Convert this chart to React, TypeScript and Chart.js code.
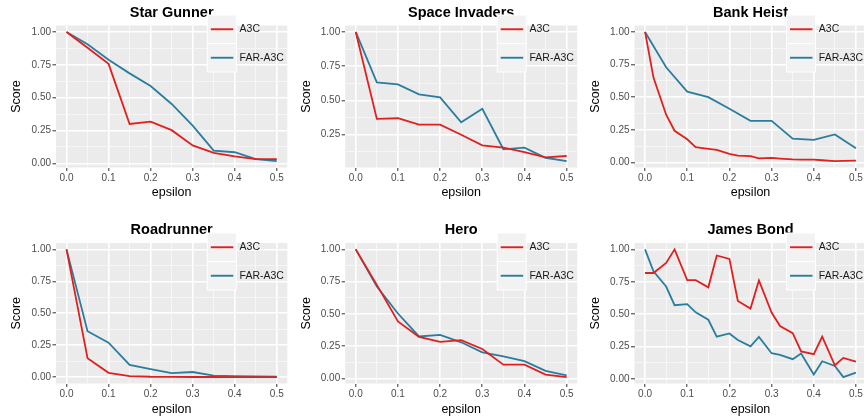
import React, { useEffect, useRef } from 'react';
import { Chart, registerables } from 'chart.js';

Chart.register(...registerables);

// ---------- data ----------
const EPS = [0, 0.05, 0.1, 0.15, 0.2, 0.25, 0.3, 0.35, 0.4, 0.45, 0.5];
const EPS_FINE = [0, 0.02, 0.05, 0.07, 0.1, 0.12, 0.15, 0.17, 0.2, 0.22, 0.25, 0.27, 0.3, 0.32, 0.35, 0.37, 0.4, 0.42, 0.45, 0.47, 0.5];

const GAME_TITLES = ['Star Gunner', 'Space Invaders', 'Bank Heist', 'Roadrunner', 'Hero', 'James Bond'];
const SERIES_NAMES = ['A3C', 'FAR-A3C'];
const X_TICK_LABELS = ['0.0', '0.1', '0.2', '0.3', '0.4', '0.5'];
const Y_TICK_LABELS = ['0.00', '0.25', '0.50', '0.75', '1.00'];
const X_TITLE = 'epsilon';
const Y_TITLE = 'Score';

const starGunnerA3C = [1.0, 0.88, 0.757, 0.3, 0.318, 0.253, 0.137, 0.08, 0.054, 0.033, 0.033];
const starGunnerFAR = [1.0, 0.907, 0.788, 0.685, 0.589, 0.452, 0.287, 0.098, 0.085, 0.033, 0.018];

const spaceInvadersA3C = [1.0, 0.364, 0.369, 0.322, 0.322, 0.248, 0.171, 0.154, 0.122, 0.083, 0.093];
const spaceInvadersFAR = [1.0, 0.631, 0.616, 0.544, 0.522, 0.339, 0.438, 0.142, 0.154, 0.08, 0.056];

const bankHeistA3C = [1.0, 0.65, 0.365, 0.242, 0.177, 0.117, 0.104, 0.096, 0.065, 0.052, 0.047, 0.031, 0.034, 0.029, 0.023, 0.021, 0.021, 0.016, 0.01, 0.011, 0.013];
const bankHeistFAR = [1.0, 0.729, 0.542, 0.5, 0.411, 0.318, 0.318, 0.182, 0.172, 0.214, 0.109];

const roadrunnerA3C = [1.0, 0.148, 0.034, 0.008, 0.003, 0.002, 0.001, 0.001, 0.0, 0.0, 0.0];
const roadrunnerFAR = [1.0, 0.359, 0.269, 0.095, 0.063, 0.032, 0.04, 0.011, 0.008, 0.005, 0.003];

const heroA3C = [1.0, 0.725, 0.442, 0.322, 0.283, 0.296, 0.228, 0.107, 0.107, 0.029, 0.01];
const heroFAR = [1.0, 0.712, 0.503, 0.325, 0.338, 0.28, 0.202, 0.17, 0.134, 0.058, 0.024];

const jamesBondA3C = [0.818, 0.818, 0.896, 1.0, 0.763, 0.763, 0.708, 0.953, 0.927, 0.602, 0.544, 0.76, 0.513, 0.409, 0.354, 0.214, 0.193, 0.328, 0.107, 0.164, 0.135];
const jamesBondFAR = [1.0, 0.831, 0.714, 0.57, 0.578, 0.515, 0.458, 0.328, 0.352, 0.302, 0.253, 0.326, 0.2, 0.188, 0.154, 0.198, 0.036, 0.138, 0.102, 0.016, 0.05];

const PANEL_SERIES = [
  { xa: EPS, a: starGunnerA3C, xf: EPS, f: starGunnerFAR },
  { xa: EPS, a: spaceInvadersA3C, xf: EPS, f: spaceInvadersFAR },
  { xa: EPS_FINE, a: bankHeistA3C, xf: EPS, f: bankHeistFAR },
  { xa: EPS, a: roadrunnerA3C, xf: EPS, f: roadrunnerFAR },
  { xa: EPS, a: heroA3C, xf: EPS, f: heroFAR },
  { xa: EPS_FINE, a: jamesBondA3C, xf: EPS_FINE, f: jamesBondFAR },
];

// ---------- style / layout ----------
const RED = '#E0201E';
const BLUE = '#2A7D9E';
const PANEL_BG = '#EBEBEB';
const FONT = '"Liberation Sans", Arial, Helvetica, sans-serif';

const COLS = [
  { left: 0, areaLeft: 56, areaRight: 287.3 },
  { left: 289, areaLeft: 56.2, areaRight: 288.2 },
  { left: 578, areaLeft: 56.5, areaRight: 288.5 },
];
const ROWS = [
  { top: 0, height: 210, areaTop: 25.5, areaBottom: 167.5, titleY: 12.5, xTitleY: 192.5, legendTop: 15 },
  { top: 210, height: 209, areaTop: 33, areaBottom: 173.5, titleY: 20, xTitleY: 200, legendTop: 23 },
];
const CANVAS_W = 289;

const isMajorX = (v: number) => Math.abs(v * 10 - Math.round(v * 10)) < 1e-6;
const isMajorY = (v: number) => Math.abs(v * 4 - Math.round(v * 4)) < 1e-6;

function Panel({ index }: { index: number }) {
  const ref = useRef<HTMLCanvasElement | null>(null);
  const col = COLS[index % 3];
  const row = ROWS[Math.floor(index / 3)];

  useEffect(() => {
    const canvas = ref.current;
    if (!canvas) return;
    const s = PANEL_SERIES[index];
    const all = [...s.a, ...s.f];
    const dMin = Math.min(...all);
    const dMax = Math.max(...all);
    const yExp = (dMax - dMin) * 0.05;
    const yMin = dMin - yExp;
    const yMax = dMax + yExp;
    const xMin = -0.025;
    const xMax = 0.525;

    const yTicks: number[] = [];
    for (let k = -1; k <= 9; k++) {
      const v = k * 0.125;
      if (v >= yMin - 1e-9 && v <= yMax + 1e-9) yTicks.push(v);
    }
    const xTicks: number[] = [];
    for (let k = 0; k <= 10; k++) xTicks.push(k * 0.05);

    const H = row.height;

    const decor = {
      id: 'decor',
      beforeDraw(chart: any) {
        const { ctx, chartArea } = chart;
        ctx.save();
        ctx.fillStyle = PANEL_BG;
        ctx.fillRect(chartArea.left, chartArea.top, chartArea.right - chartArea.left, chartArea.bottom - chartArea.top);
        ctx.restore();
      },
      afterDraw(chart: any) {
        const { ctx, chartArea } = chart;
        const cx = (chartArea.left + chartArea.right) / 2;
        const cy = (chartArea.top + chartArea.bottom) / 2;
        ctx.save();
        // title
        ctx.fillStyle = '#000000';
        ctx.textAlign = 'center';
        ctx.textBaseline = 'middle';
        ctx.font = `bold 14.5px ${FONT}`;
        ctx.fillText(GAME_TITLES[index], cx, row.titleY);
        // axis titles
        ctx.font = `12.5px ${FONT}`;
        ctx.fillText(X_TITLE, cx, row.xTitleY);
        ctx.save();
        ctx.translate(index % 3 === 0 ? 16.5 : 17.3, cy);
        ctx.rotate(-Math.PI / 2);
        ctx.fillText(Y_TITLE, 0, 0);
        ctx.restore();
        // legend
        const kx = chartArea.right - 80;
        const kw = 29;
        const kh = 28.5;
        const colors = [RED, BLUE];
        for (let i = 0; i < 2; i++) {
          const y0 = row.legendTop + i * kh;
          ctx.fillStyle = '#F2F2F2';
          ctx.fillRect(kx, y0, kw, kh);
          ctx.strokeStyle = '#FFFFFF';
          ctx.lineWidth = 1;
          ctx.strokeRect(kx, y0, kw, kh);
          ctx.strokeStyle = colors[i];
          ctx.lineWidth = 1.9;
          ctx.beginPath();
          ctx.moveTo(kx + 3.5, y0 + kh / 2);
          ctx.lineTo(kx + 26, y0 + kh / 2);
          ctx.stroke();
          ctx.fillStyle = '#1A1A1A';
          ctx.font = `10.5px ${FONT}`;
          ctx.textAlign = 'left';
          ctx.textBaseline = 'middle';
          ctx.fillText(SERIES_NAMES[i], kx + 32.3, y0 + kh / 2);
        }
        ctx.restore();
      },
    };

    const chart = new Chart(canvas, {
      type: 'line',
      data: {
        datasets: [
          {
            label: SERIES_NAMES[0],
            data: s.xa.map((x, i) => ({ x, y: s.a[i] })),
            borderColor: RED,
            borderWidth: 1.8,
            pointRadius: 0,
            tension: 0,
            fill: false,
          },
          {
            label: SERIES_NAMES[1],
            data: s.xf.map((x, i) => ({ x, y: s.f[i] })),
            borderColor: BLUE,
            borderWidth: 1.8,
            pointRadius: 0,
            tension: 0,
            fill: false,
          },
        ],
      },
      options: {
        animation: false,
        responsive: false,
        devicePixelRatio: 1,
        layout: {
          padding: { left: 0, top: row.areaTop, right: CANVAS_W - col.areaRight, bottom: 0 },
        },
        plugins: {
          legend: { display: false },
          title: { display: false },
          tooltip: { enabled: false },
        },
        scales: {
          x: {
            type: 'linear',
            min: xMin,
            max: xMax,
            afterBuildTicks: (scale: any) => {
              scale.ticks = xTicks.map((v) => ({ value: v }));
            },
            afterFit: (scale: any) => {
              scale.height = H - row.areaBottom;
            },
            border: { display: false },
            grid: {
              color: (c: any) => (isMajorX(c.tick.value) ? '#FFFFFF' : '#F6F6F6'),
              lineWidth: (c: any) => (isMajorX(c.tick.value) ? 1.6 : 1),
              tickColor: (c: any) => (isMajorX(c.tick.value) ? '#333333' : 'rgba(0,0,0,0)'),
              tickLength: 3.5,
              tickWidth: 1,
            },
            ticks: {
              autoSkip: false,
              maxRotation: 0,
              padding: 1.5,
              color: '#4D4D4D',
              font: { family: FONT, size: 10 },
              callback: (v: any) => (isMajorX(Number(v)) ? X_TICK_LABELS[Math.round(Number(v) * 10)] : ''),
            },
          },
          y: {
            type: 'linear',
            min: yMin,
            max: yMax,
            afterBuildTicks: (scale: any) => {
              scale.ticks = yTicks.map((v) => ({ value: v }));
            },
            afterFit: (scale: any) => {
              scale.width = col.areaLeft;
            },
            border: { display: false },
            grid: {
              color: (c: any) => (isMajorY(c.tick.value) ? '#FFFFFF' : '#F6F6F6'),
              lineWidth: (c: any) => (isMajorY(c.tick.value) ? 1.6 : 1),
              tickColor: (c: any) => (isMajorY(c.tick.value) ? '#333333' : 'rgba(0,0,0,0)'),
              tickLength: 3.5,
              tickWidth: 1,
            },
            ticks: {
              autoSkip: false,
              padding: 1.5,
              color: '#4D4D4D',
              font: { family: FONT, size: 10 },
              callback: (v: any) => (isMajorY(Number(v)) ? Y_TICK_LABELS[Math.round(Number(v) * 4)] : ''),
            },
          },
        },
      },
      plugins: [decor],
    } as any);

    return () => chart.destroy();
  }, [index]);

  return (
    <canvas
      ref={ref}
      width={CANVAS_W}
      height={row.height}
      style={{ position: 'absolute', left: col.left, top: row.top, width: CANVAS_W, height: row.height }}
    />
  );
}

export default function App() {
  return (
    <div
      style={{
        position: 'absolute',
        left: 0,
        top: 0,
        width: 864,
        height: 419,
        overflow: 'hidden',
        background: '#FFFFFF',
      }}
    >
      {GAME_TITLES.map((_, i) => (
        <Panel key={i} index={i} />
      ))}
    </div>
  );
}
